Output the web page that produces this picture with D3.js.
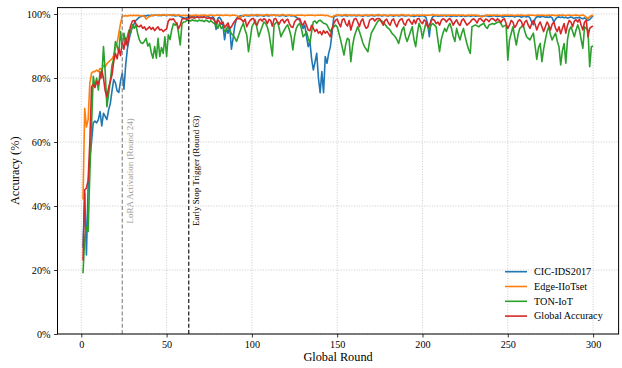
<!DOCTYPE html>
<html>
<head>
<meta charset="utf-8">
<script src="https://cdn.jsdelivr.net/npm/d3@7"></script>
<style>
  html, body { margin: 0; padding: 0; background: #fff; }
  svg { display: block; font-family: "Liberation Serif", "Times New Roman", serif; }
</style>
</head>
<body>
<svg id="chart" width="622" height="368"></svg>
<script>
// Per-round accuracy (%), rounds 1..300
const rounds = d3.range(1, 301);

const cicIds2017 = [
  27,44,24.7,46,55,60,66,66.5,66,67,
  69.5,65,69,68,67,70,72,76,79.5,78.5,
  76,75.5,79,81.5,76.5,84,89,92,94.5,96,
  97,98,98.5,99,99.2,99.4,99.5,99.4,99.6,99.5,
  99.6,99.5,99.6,99.7,99.5,99.6,99.5,99.7,99.6,99.5,
  99.6,99.7,99.5,99.6,99.4,99.5,99.6,99.3,99.0,98.8,
  98.6,98.9,99.1,99.3,99.4,99.2,99.5,99.3,99.4,99.5,
  99.4,99.3,99.5,99.2,99.0,98.8,99.1,98.5,95.2,98.6,
  99.0,98.2,96.5,92.0,95.5,94.0,96.0,89.0,92.5,96.5,
  98.6,99.2,99.4,99.5,99.3,99.6,99.5,99.4,99.5,99.6,
  99.5,99.6,99.4,99.5,99.6,99.5,99.3,99.6,99.5,99.4,
  99.6,99.5,99.7,99.5,99.6,99.4,99.5,99.6,99.5,99.3,
  99.5,99.6,99.4,99.5,99.3,99.0,98.6,98.0,97.0,95.5,
  96.5,93.0,89.8,91.5,86.0,82.5,85.0,87.7,80.0,75.4,
  82.0,75.4,86.7,84.6,87.7,89.8,94.0,99.0,99.4,99.5,
  99.6,99.5,99.4,99.6,99.5,99.4,99.6,99.5,99.5,99.6,
  99.4,99.5,99.6,99.5,99.3,99.5,99.6,99.4,99.5,99.6,
  99.5,99.4,99.6,99.5,99.6,99.4,99.5,99.6,99.5,99.4,
  99.6,99.5,99.3,99.5,99.6,99.4,99.5,99.6,99.5,99.4,
  99.5,99.6,99.4,99.5,99.2,99.4,99.5,99.3,99.4,99.5,
  99.3,99.0,97.0,92.9,98.0,99.2,99.4,99.5,99.3,99.4,
  99.5,99.4,99.6,99.3,99.5,99.4,99.2,99.5,99.4,99.3,
  99.5,99.4,99.3,99.5,99.2,99.4,99.5,99.3,99.4,99.5,
  99.3,99.4,99.5,99.2,99.4,99.3,99.5,99.4,99.2,99.3,
  99.4,99.5,99.3,99.2,99.4,99.3,99.0,99.2,99.4,99.3,
  99.2,99.4,99.3,99.1,99.3,99.4,99.2,99.0,99.3,99.2,
  99.1,99.3,98.8,97.5,96.6,98.5,99.1,99.2,99.0,99.3,
  99.2,99.0,99.1,98.9,99.2,98.8,97.5,98.4,99.0,99.1,
  98.9,99.1,98.8,99.0,98.7,98.9,99.1,98.8,98.6,98.9,
  98.8,99.0,98.7,98.5,98.8,98.4,98.0,98.3,98.9,99.5
];

const edgeIIoTset = [
  42,70.5,64.7,67,78.4,81.5,82,82,82.5,82,
  83,82.5,84,83.5,84.5,85,85.5,86,87,89.3,
  91,94,97,99.3,99.4,99.5,99.4,99.5,99.6,99.5,
  99.6,99.5,99.6,99.5,99.4,99.5,99.3,98.4,98.9,99.2,
  99.5,99.6,99.7,99.6,99.7,99.6,99.7,99.8,99.7,99.6,
  99.7,99.6,99.7,99.8,99.7,99.6,99.7,99.6,99.5,99.6,
  99.5,99.6,99.4,99.5,99.6,99.5,99.7,99.6,99.5,99.6,
  99.6,99.7,99.6,99.5,99.6,99.7,99.6,99.5,99.6,99.7,
  99.6,99.7,99.5,99.6,99.7,99.6,99.5,99.6,99.7,99.6,
  99.5,99.2,98.6,99.3,99.6,99.7,99.6,99.7,99.6,99.7,
  99.6,99.7,99.8,99.7,99.6,99.7,99.6,99.7,99.8,99.7,
  99.6,99.7,99.6,99.5,99.7,99.6,99.7,99.8,99.7,99.6,
  99.7,99.6,99.7,99.6,99.5,99.6,99.7,99.6,99.7,99.6,
  99.5,99.6,99.7,99.6,99.7,99.6,99.5,99.6,99.7,99.6,
  99.7,99.6,99.5,99.6,99.4,99.2,99.0,99.4,99.6,99.7,
  99.6,99.7,99.6,99.7,99.8,99.7,99.6,99.7,99.6,99.7,
  99.6,99.7,99.6,99.5,99.6,99.7,99.6,99.7,99.6,99.7,
  99.7,99.6,99.7,99.8,99.7,99.6,99.7,99.6,99.5,99.6,
  99.7,99.6,99.7,99.6,99.7,99.6,99.7,99.8,99.7,99.6,
  99.7,99.6,99.5,99.6,99.7,99.6,99.7,99.6,99.7,99.6,
  99.7,99.6,99.7,99.6,99.7,99.8,99.7,99.6,99.7,99.6,
  99.7,99.6,99.5,99.6,99.7,99.6,99.7,99.6,99.7,99.6,
  99.7,99.6,99.7,99.6,99.5,99.6,99.7,99.6,99.7,99.6,
  99.7,99.6,99.5,99.3,99.1,99.4,99.6,99.7,99.6,99.7,
  99.6,99.7,99.6,99.7,99.6,99.5,99.6,99.7,99.6,99.7,
  99.6,99.7,99.6,99.5,99.6,99.7,99.6,99.7,99.6,99.5,
  99.6,99.7,99.6,99.7,99.6,99.5,99.6,99.7,99.6,99.7,
  99.6,99.5,99.6,99.7,99.6,99.7,99.6,99.5,99.6,99.7,
  99.6,99.7,99.6,99.5,99.6,99.7,99.6,99.5,99.6,99.7,
  99.6,99.5,99.6,99.7,99.4,99.0,98.5,99.2,99.5,99.6
];

const tonIoT = [
  19,30,33.5,32,50,65,80.5,77.3,80,76.3,
  82,80,89.8,82,71,75,79,84,86,91.4,
  90,88,94.5,90,94,90.5,93,95,94,96.6,
  95.5,96.6,94,92,91,90.8,91.5,92.4,90,90.8,
  88,86.2,89.8,86.2,92.4,86.7,89.5,87.7,92.9,86.7,
  93.5,92,95,97,96.5,97.2,94,90.3,97,97.5,
  97.6,98,98.1,97.8,98.2,97.9,98.0,97.7,98.1,97.9,
  98.0,97.6,98.1,97.8,97.5,97.9,97.4,97.0,96.5,95.5,
  97.0,95.5,96.0,94.5,94.8,96.5,95.0,93.8,93.4,92.5,
  91.4,93.0,94.5,96.0,97.1,95.0,93.4,88.2,92.0,96.0,
  97.0,98.1,95.5,92.9,94.5,96.0,97.5,97.1,96.0,94.0,
  90.5,86.9,96.6,97.2,97.6,95.5,92.9,94.0,95.0,96.0,
  96.6,95.0,92.9,88.8,93.0,95.5,96.5,97.1,95.5,92.9,
  93.5,94.5,92.5,90.8,94.5,97.6,97.8,97.1,97.8,98.1,
  97.6,97.1,97.0,96.6,95.5,94.5,95.5,96.0,96.5,96.0,
  94.0,91.9,89.5,87.2,90.5,92.4,91.9,85.1,90.0,92.9,
  94.5,96.0,94.5,92.9,91.0,89.8,89.0,88.2,91.5,94.0,
  95.0,96.0,97.0,97.8,98.1,97.8,97.5,96.8,96.0,95.5,
  95.0,94.0,93.5,92.9,92.0,90.8,92.9,95.0,96.0,93.0,
  91.4,93.0,94.5,96.0,92.0,89.8,94.0,97.1,95.5,92.4,
  95.0,97.1,96.5,95.0,96.6,97.0,96.5,96.0,92.0,88.2,
  92.0,94.0,95.5,94.5,96.0,97.1,95.5,93.0,91.4,95.5,
  93.5,91.9,94.0,95.5,93.0,90.8,89.0,87.7,96.0,96.3,
  96.6,96.3,96.0,96.5,96.8,97.1,96.0,95.5,96.6,96.8,
  97.0,96.8,97.1,97.4,97.6,97.0,96.0,96.3,96.6,85.6,
  91.9,94.0,96.0,93.0,90.3,93.5,95.5,96.0,96.6,94.5,
  92.9,92.4,91.9,93.0,94.0,90.0,85.8,89.5,90.8,85.1,
  89.0,91.9,94.5,96.0,93.5,91.9,93.0,94.0,91.5,89.8,
  84.1,88.5,90.8,84.6,92.0,95.0,96.0,94.5,92.9,95.0,
  96.6,95.0,92.0,89.3,96.0,95.5,95.0,83.5,89.8,90.0
];

const globalAccuracy = [
  23,45,45.6,48,60,77.3,78,77,79,78,
  80,82.3,80,76,74.1,77,79,81,85.1,87.7,
  86,89,87,91,89,92.5,90,94,96.5,97.8,
  98,97,96.2,96,96.5,95.5,96,95,95.5,96,
  95.2,95.8,94.8,95.5,96,95,95.2,94.5,95,95.3,
  97.8,98.4,98.2,98.5,97.6,97,95.4,96.5,98.4,98.6,
  98.5,98.3,98.6,98.8,99.0,98.7,98.9,99.1,98.8,99.0,
  98.9,99.1,98.8,98.6,98.9,98.4,98.7,98.0,97.0,98.2,
  97.5,96.8,97.5,95.8,96.5,97.2,95.5,96.0,97.0,97.8,
  98.4,98.6,98.5,98.2,97.5,98.4,96.0,97.2,98.0,98.5,
  98.6,97.0,96.5,98.0,98.4,97.8,98.5,98.2,97.0,98.3,
  98.0,96.2,98.4,98.6,97.5,96.8,98.0,98.3,97.2,98.0,
  98.4,97.0,96.0,95.8,97.5,98.2,98.5,98.6,97.0,96.5,
  97.8,96.5,95.0,94.8,96.5,95.5,94.5,95.2,94.0,94.5,
  93.5,94.8,94.0,94.6,93.8,92.9,95.5,97.0,98.0,98.4,
  97.0,96.0,98.2,98.5,97.0,96.2,98.0,95.0,97.0,98.4,
  98.6,97.5,96.0,97.8,98.5,96.5,95.5,96.0,98.0,98.5,
  98.6,97.8,98.4,98.6,98.5,97.5,96.5,98.0,98.4,97.2,
  96.5,98.0,98.5,97.0,96.0,97.5,98.3,98.5,97.0,96.5,
  98.0,98.4,97.5,96.8,98.2,97.0,98.5,98.6,97.5,97.0,
  98.2,97.6,96.0,96.5,97.8,98.4,98.0,97.0,97.5,96.5,
  98.0,98.5,98.3,97.5,98.2,98.6,97.8,96.5,97.5,98.2,
  97.0,96.4,98.0,98.5,97.5,96.5,97.0,97.5,98.2,98.5,
  98.0,97.2,98.4,98.6,98.0,97.5,98.4,98.2,97.6,98.4,
  98.6,98.2,97.8,98.5,98.0,97.4,98.2,98.5,97.0,95.5,
  96.5,98.0,97.5,95.8,96.5,97.8,98.2,97.6,96.0,97.5,
  98.0,96.5,95.5,97.0,98.0,96.8,95.0,96.5,97.5,96.0,
  94.5,96.0,97.5,96.5,95.0,96.8,97.5,95.5,94.5,96.0,
  93.8,95.5,97.0,94.0,96.5,98.0,97.5,96.0,97.8,98.2,
  97.5,98.4,96.5,95.0,97.5,98.0,92.9,95.5,96.0,96.2
];

const seriesNames = ["CIC-IDS2017", "Edge-IIoTset", "TON-IoT", "Global Accuracy"];
const seriesValues = [cicIds2017, edgeIIoTset, tonIoT, globalAccuracy];
const seriesColors = ["#1f77b4", "#ff7f0e", "#2ca02c", "#d62728"];

const xTicks = [0, 50, 100, 150, 200, 250, 300];
const yTicks = [0, 20, 40, 60, 80, 100];

// vertical markers: round, label, colour
const markers = [
  { round: 24, label: "LoRA Activation (Round 24)", color: "#808080", text: "#9a9a9a" },
  { round: 63, label: "Early Stop Trigger (Round 63)", color: "#000", text: "#000" },
];

const svg = d3.select("#chart");
const plotLeft = 57.5, plotRight = 618.6, plotTop = 7.6, plotBottom = 334;

// matplotlib-style 5% margins on x, y fixed to 0..102
const x = d3.scaleLinear().domain([-13.95, 314.95]).range([plotLeft, plotRight]);
const y = d3.scaleLinear().domain([0, 102]).range([plotBottom, plotTop]);

// grid
const grid = svg.append("g")
  .attr("stroke", "#b0b0b0").attr("stroke-width", 0.8)
  .attr("stroke-dasharray", "1,1.6").attr("opacity", 0.8);
grid.selectAll(".gx").data(xTicks).join("line")
  .attr("x1", d => x(d)).attr("x2", d => x(d))
  .attr("y1", plotTop).attr("y2", plotBottom);
grid.selectAll(".gy").data(yTicks).join("line")
  .attr("x1", plotLeft).attr("x2", plotRight)
  .attr("y1", d => y(d)).attr("y2", d => y(d));

// series
const line = d3.line().x((d, i) => x(rounds[i])).y(d => y(d));
svg.append("g").selectAll("path").data(seriesValues).join("path")
  .attr("d", d => line(d))
  .attr("fill", "none")
  .attr("stroke", (d, i) => seriesColors[i])
  .attr("stroke-width", 1.6)
  .attr("stroke-linejoin", "round");

// round markers + rotated notes
for (const m of markers) {
  svg.append("line")
    .attr("x1", x(m.round)).attr("x2", x(m.round))
    .attr("y1", plotTop).attr("y2", plotBottom)
    .attr("stroke", m.color).attr("stroke-width", 1.1)
    .attr("stroke-dasharray", "4,2.2");
  const cx = x(m.round) + 7.5, cy = (plotTop + plotBottom) / 2;
  svg.append("text")
    .attr("transform", `translate(${cx},${cy}) rotate(-90)`)
    .attr("text-anchor", "middle")
    .attr("dominant-baseline", "central")
    .attr("font-size", 9)
    .attr("fill", m.text)
    .text(m.label);
}

// axes
const xAxis = svg.append("g").attr("transform", `translate(0,${plotBottom})`)
  .call(d3.axisBottom(x).tickValues(xTicks).tickSize(3.5).tickPadding(3.5).tickSizeOuter(0));
const yAxis = svg.append("g").attr("transform", `translate(${plotLeft},0)`)
  .call(d3.axisLeft(y).tickValues(yTicks).tickFormat(d => d + "%").tickSize(3.5).tickPadding(3.5).tickSizeOuter(0));
for (const ax of [xAxis, yAxis]) {
  ax.select(".domain").remove();
  ax.selectAll("text").attr("font-size", 10.2).attr("fill", "#000")
    .attr("font-family", "Liberation Serif, Times New Roman, serif");
  ax.selectAll(".tick line").attr("stroke", "#000").attr("stroke-width", 0.8);
}

// frame
svg.append("rect")
  .attr("x", plotLeft).attr("y", plotTop)
  .attr("width", plotRight - plotLeft).attr("height", plotBottom - plotTop)
  .attr("fill", "none").attr("stroke", "#000").attr("stroke-width", 1);

// axis labels
svg.append("text")
  .attr("x", (plotLeft + plotRight) / 2).attr("y", 361)
  .attr("text-anchor", "middle").attr("font-size", 12.3)
  .text("Global Round");
svg.append("text")
  .attr("transform", `translate(19,${(plotTop + plotBottom) / 2}) rotate(-90)`)
  .attr("text-anchor", "middle").attr("font-size", 12.3)
  .text("Accuracy (%)");

// legend (lower right, no frame)
const legend = svg.append("g").selectAll("g").data(seriesNames).join("g")
  .attr("transform", (d, i) => `translate(505,${271.7 + i * 14.8})`);
legend.append("line")
  .attr("x1", 0).attr("x2", 22)
  .attr("stroke", (d, i) => seriesColors[i]).attr("stroke-width", 1.6);
legend.append("text")
  .attr("x", 29).attr("dy", "0.33em")
  .attr("font-size", 10.2)
  .text(d => d);
</script>
</body>
</html>
